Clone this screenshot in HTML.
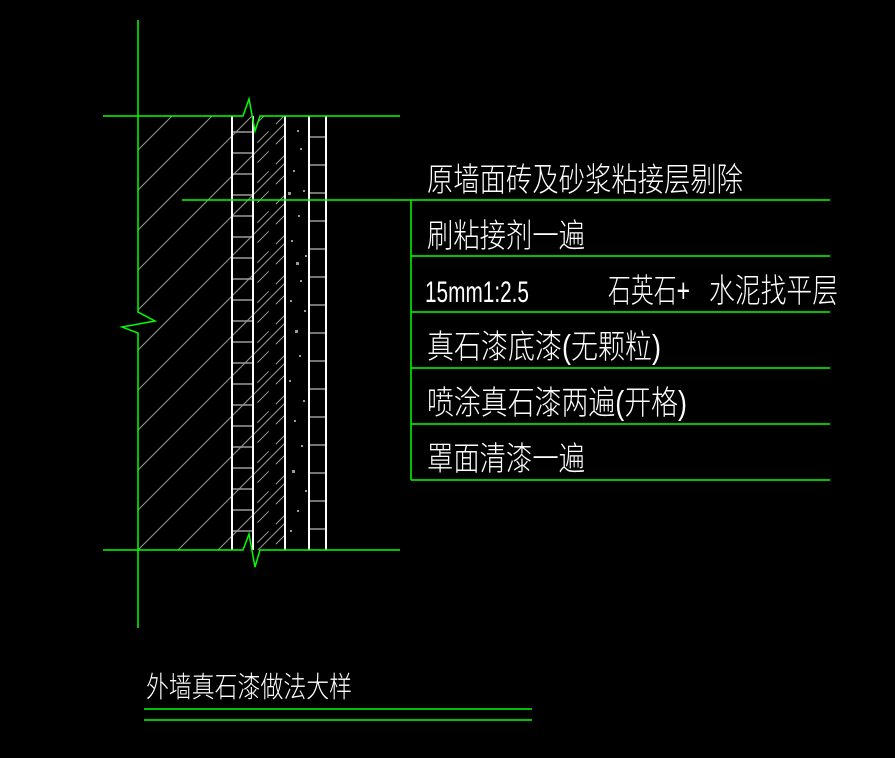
<!DOCTYPE html>
<html><head><meta charset="utf-8"><style>
html,body{margin:0;padding:0;background:#000;width:895px;height:758px;overflow:hidden}
svg{display:block}
text{font-family:"Liberation Sans","Noto Sans CJK SC",sans-serif;fill:#fff;font-weight:300}
</style></head><body>
<svg width="895" height="758" viewBox="0 0 895 758" xmlns="http://www.w3.org/2000/svg">
<defs>
<clipPath id="c1"><rect x="138" y="116" width="147" height="434"/></clipPath>
<clipPath id="c2"><rect x="253" y="116" width="32" height="434"/></clipPath>
</defs>
<g clip-path="url(#c1)" stroke="#9a9a9a" stroke-width="1">
<path d="M0,248 L500,-252 M0,288 L500,-212 M0,328 L500,-172 M0,368 L500,-132 M0,408 L500,-92 M0,448 L500,-52 M0,488 L500,-12 M0,528 L500,28 M0,568 L500,68 M0,608 L500,108 M0,648 L500,148 M0,688 L500,188 M0,728 L500,228 M0,768 L500,268 M0,808 L500,308 M0,848 L500,348 M0,888 L500,388 M0,928 L500,428 M0,968 L500,468 M0,1008 L500,508 M0,1048 L500,548"/>
</g>
<g clip-path="url(#c2)" stroke="#9a9a9a" stroke-width="1" stroke-dasharray="16 10">
<path d="M0,380 L400,-20 M0,400 L400,0 M0,420 L400,20 M0,440 L400,40 M0,460 L400,60 M0,480 L400,80 M0,500 L400,100 M0,520 L400,120 M0,540 L400,140 M0,560 L400,160 M0,580 L400,180 M0,600 L400,200 M0,620 L400,220 M0,640 L400,240 M0,660 L400,260 M0,680 L400,280 M0,700 L400,300 M0,720 L400,320 M0,740 L400,340 M0,760 L400,360 M0,780 L400,380 M0,800 L400,400 M0,820 L400,420 M0,840 L400,440 M0,860 L400,460 M0,880 L400,480 M0,900 L400,500 M0,920 L400,520 M0,940 L400,540 M0,960 L400,560 M0,980 L400,580"/>
</g>
<g stroke="#9a9a9a" stroke-width="1.5">
<path d="M232,132H253M232,153H253M232,174H253M232,195H253M232,216H253M232,237H253M232,258H253M232,279H253M232,300H253M232,321H253M232,342H253M232,363H253M232,384H253M232,405H253M232,426H253M232,447H253M232,468H253M232,489H253M232,510H253M232,531H253"/>
<path d="M309,137H326M309,165H326M309,193H326M309,221H326M309,249H326M309,277H326M309,305H326M309,333H326M309,361H326M309,389H326M309,417H326M309,445H326M309,473H326M309,501H326M309,529H326"/>
</g>
<g fill="#9a9a9a">
<rect x="297" y="130" width="2" height="2"/><rect x="300" y="148" width="2" height="2"/><rect x="293" y="170" width="2" height="2"/><rect x="303" y="190" width="2" height="2"/><rect x="288" y="192" width="3" height="3"/><rect x="298" y="215" width="2" height="2"/><rect x="291" y="240" width="2" height="2"/><rect x="305" y="255" width="2" height="2"/><rect x="296" y="262" width="3" height="3"/><rect x="300" y="280" width="2" height="2"/><rect x="290" y="300" width="2" height="2"/><rect x="304" y="310" width="2" height="2"/><rect x="295" y="330" width="3" height="3"/><rect x="299" y="355" width="2" height="2"/><rect x="289" y="380" width="2" height="2"/><rect x="303" y="400" width="2" height="2"/><rect x="294" y="420" width="2" height="2"/><rect x="301" y="445" width="2" height="2"/><rect x="292" y="470" width="3" height="3"/><rect x="305" y="490" width="2" height="2"/><rect x="297" y="510" width="2" height="2"/><rect x="290" y="530" width="2" height="2"/>
</g>
<g stroke="#fff" stroke-width="2">
<path d="M232,116V550M253,116V550M285,116V550M309,116V550M326,116V550"/>
</g>
<g stroke="#00ff00" stroke-width="1.5" fill="none">
<path d="M138,20V312L155,321L122,327L138,333V628"/>
<path d="M103,116H243L249,99L255,131L260,116H400"/>
<path d="M103,550H243L249,534L255,567L260,550H400"/>
<path d="M182,200H830M411,200V480M411,256H830M411,312H830M411,368H830M411,424H830M411,480H830"/>
<path d="M144,709H532M144,720H532"/>
</g>
<g font-size="33">
<text x="427" y="191" textLength="316" lengthAdjust="spacingAndGlyphs">原墙面砖及砂浆粘接层剔除</text>
<text x="427" y="247" textLength="158" lengthAdjust="spacingAndGlyphs">刷粘接剂一遍</text>
<text x="425" y="302" textLength="104" lengthAdjust="spacingAndGlyphs" font-size="30">15mm1:2.5</text>
<text x="608" y="302" textLength="82" lengthAdjust="spacingAndGlyphs">石英石+</text>
<text x="709" y="302" textLength="129" lengthAdjust="spacingAndGlyphs">水泥找平层</text>
<text x="427" y="358" textLength="234" lengthAdjust="spacingAndGlyphs">真石漆底漆(无颗粒)</text>
<text x="427" y="414" textLength="260" lengthAdjust="spacingAndGlyphs">喷涂真石漆两遍(开格)</text>
<text x="427" y="470" textLength="158" lengthAdjust="spacingAndGlyphs">罩面清漆一遍</text>
<text x="146" y="697" font-size="29" textLength="206" lengthAdjust="spacingAndGlyphs">外墙真石漆做法大样</text>
</g>
</svg>
</body></html>
